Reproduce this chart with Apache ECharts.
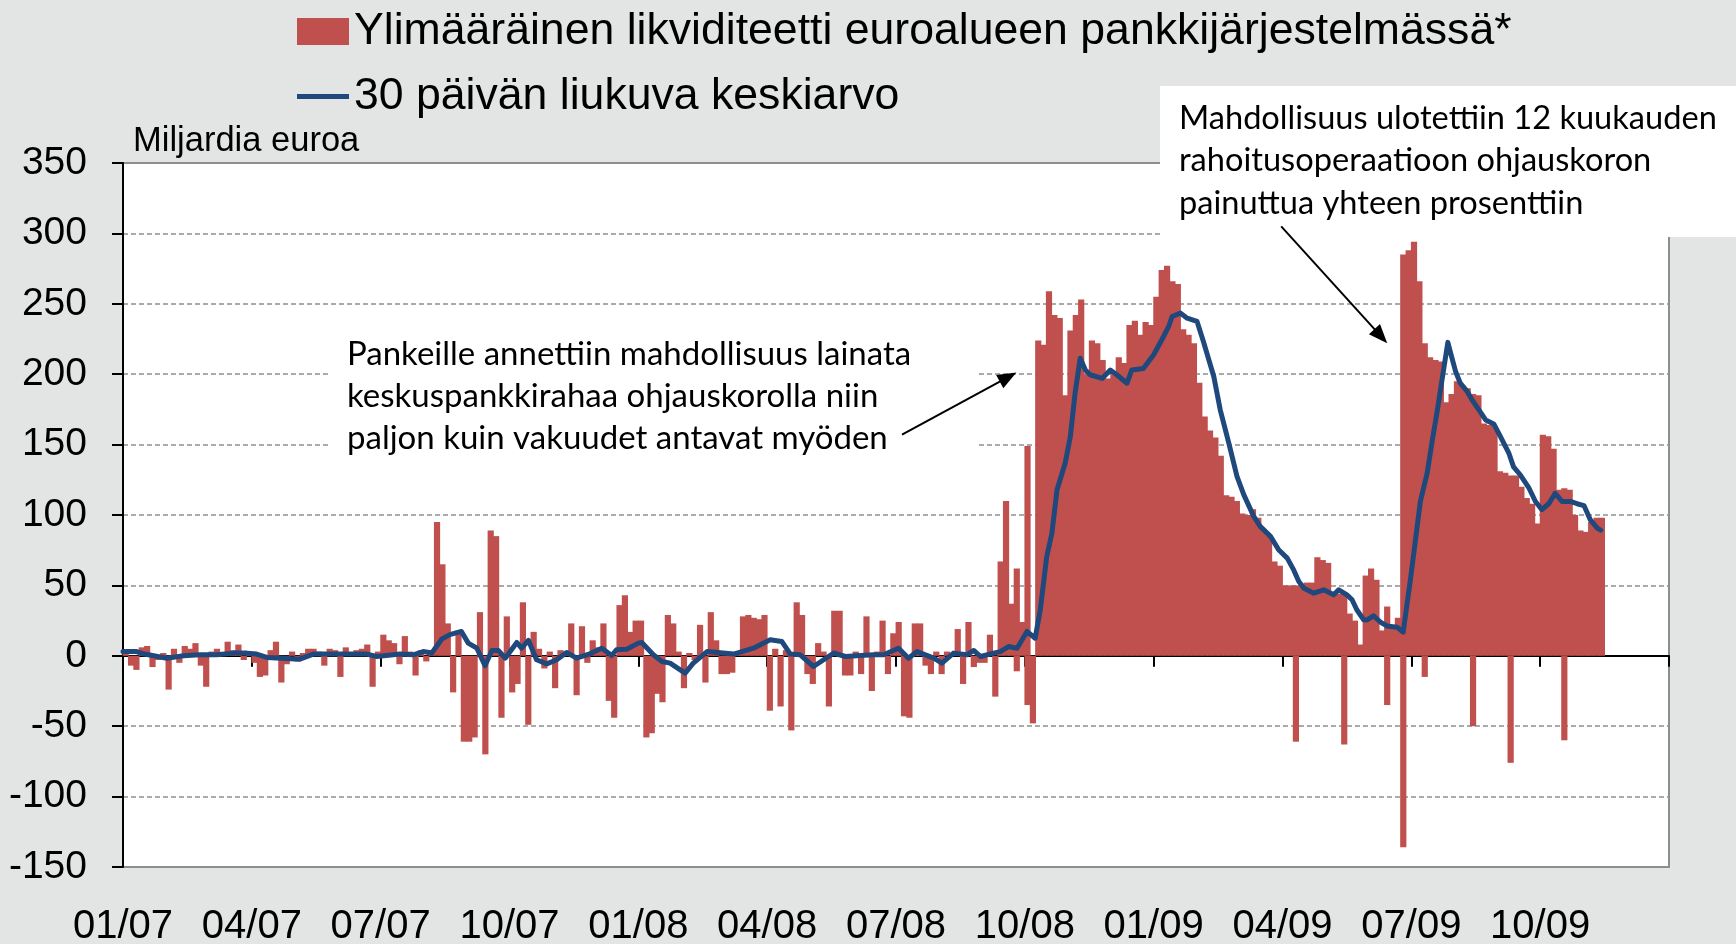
<!DOCTYPE html>
<html>
<head>
<meta charset="utf-8">
<script src="https://cdn.jsdelivr.net/npm/echarts@6/dist/echarts.min.js"></script>
<style>
  html, body { margin: 0; padding: 0; background: #e3e5e4; }
  #main { width: 1736px; height: 944px; }
</style>
</head>
<body>
<div id="main"></div>
<script>
var barName = "Ylimääräinen likviditeetti euroalueen pankkijärjestelmässä*";
var lineName = "30 päivän liukuva keskiarvo";

// 8 bars per month, month 0 = 01/2007
var perMonth = 8;

var bars2007 = [
  3, -7, -10, 6, 7, -8, -3, 2,
  -24, 5, -5, 7, 5, 9, -7, -22,
  3, 5, 2, 10, 4, 8, -3, 2,
  -5, -15, -14, 4, 10, -19, -6, 3,
  -4, 2, 5, 5, 3, -7, 5, 4,
  -15, 6, 2, 4, 5, 8, -22, 3,
  15, 11, 9, -6, 14, 3, -14, 4,
  -4, 4, 95, 65, 23, -26, 18, -61,
  -61, -58, 31, -70, 89, 85, -44, 28,
  -26, -20, 38, -49, 17, 5, -9, 3,
  -23, 4, 3, 23, -28, 21, -5, 11,
  6, 23, -32, -44, 36, 43, 17, 25,
];
var bars2008 = [
  25, -58, -55, -27, -33, 29, 23, 3,
  -23, 2, -3, 22, -19, 31, 11, -13,
  -13, -12, 3, 28, 29, 27, 26, 29,
  -39, 5, -36, 4, -53, 38, 29, -13,
  -20, 9, 3, -36, 32, 32, -14, -14,
  3, -13, 28, -25, 3, 25, -13, 16,
  24, -43, -44, 23, 23, -7, -13, 3,
  -13, 3, 2, 19, -20, 24, -8, -5,
  -5, 15, -29, 67, 110, 37, 62, 24,
  149, -48, 224, 221, 259, 242, 240, 185,
  231, 242, 253, 200, 224, 222, 210, 197,
  200, 212, 208, 235, 238, 228, 237, 235,
];
var bars2009 = [
  255, 274, 277, 266, 264, 232, 228, 222,
  194, 170, 160, 155, 142, 114, 113, 110,
  101, 100, 104, 98, 90, 85, 67, 64,
  50, 50, 50, 50, 52, 52, 70, 68,
  66, 45, 44, 44, 30, 25, 8, 57,
  62, 54, 18, 35, 20, 27, 285, 288,
  294, 266, 222, 212, 210, 209, 180, 186,
  195, 192, 190, 186, 185, 165, 164, 163,
  131, 130, 128, 128, 120, 112, 108, 94,
  157, 156, 147, 118, 119, 118, 100, 89,
  88, 95, 98, 98,
];
// negative days inside positive bar slots: [slot, value]
var dips = [
  [166, -11], [168, -35], [218, -61], [227, -63], [235, -35],
  [238, -136], [242, -15], [251, -50], [258, -76], [268, -60],
];

// moving average: [month, value]
var avgPoints = [
  [0, 3], [0.32, 3], [0.47, 1.4], [1.02, -1.7], [1.41, 0], [1.79, 0.7], [2.18, 0.7],
  [2.57, 1.9], [2.88, 1.9], [3.11, 1.2], [3.35, -1.2], [4.12, -2.4], [4.43, 1.2],
  [4.9, 1.2], [5.68, 1.2], [5.91, -0.5], [6.45, 1.2], [6.76, 0.7], [6.99, 3],
  [7.19, 2], [7.42, 11.8], [7.61, 15], [7.88, 17.3], [8.04, 9], [8.24, 5.4],
  [8.43, -7], [8.59, 3.8], [8.74, 3.8], [8.9, -1.7], [9.17, 9.5], [9.28, 5.4],
  [9.44, 11], [9.63, -2.8], [9.87, -5.7], [10.1, -2.8], [10.33, 2.4], [10.56, -1.7],
  [10.87, 1.4], [11.15, 5.4], [11.38, 0.2], [11.49, 4.3], [11.73, 4.7], [12.0, 9],
  [12.08, 9.5], [12.35, 0.7], [12.55, -4], [12.74, -5.2], [13.09, -12.3], [13.28, -5.2],
  [13.6, 3], [14.22, 1.2], [14.68, 5.4], [15.07, 11.4], [15.34, 10.2], [15.54, 1.2],
  [15.77, 0.7], [16.08, -7.6], [16.55, 2], [16.82, -0.5], [17.17, 0.2], [17.48, 0.7],
  [17.71, 0.7], [18.06, 5.4], [18.29, -1.7], [18.49, 3], [18.88, -1.7], [19.07, -5.2],
  [19.34, 1.9], [19.65, 0.7], [19.81, 3.8], [19.97, -0.5], [20.27, 1.9], [20.43, 3],
  [20.62, 6.6], [20.82, 5.4], [21.05, 17.3], [21.24, 12.5], [21.36, 32.7], [21.51, 70.5],
  [21.63, 87], [21.75, 118], [21.94, 137], [22.06, 155.8], [22.17, 186.6], [22.29, 211.4],
  [22.41, 203], [22.52, 199.6], [22.8, 197], [22.99, 203], [23.14, 199.6], [23.38, 193.6],
  [23.49, 203], [23.76, 204], [24.0, 213.8], [24.23, 226.8], [24.35, 233.9], [24.43, 241],
  [24.62, 243.4], [24.78, 239.8], [25.01, 237.5], [25.16, 223], [25.4, 198.4], [25.55, 174.7],
  [25.75, 151], [25.94, 127.4], [26.1, 114.3], [26.33, 99], [26.48, 91.9], [26.72, 84.8],
  [26.91, 75.3], [27.11, 69.4], [27.26, 61], [27.38, 52.8], [27.5, 48], [27.73, 44.5],
  [27.96, 46.9], [28.19, 43.3], [28.31, 46.9], [28.5, 43.3], [28.62, 39.8], [28.73, 32.7],
  [28.89, 25.6], [28.97, 25.5], [29.12, 28.4], [29.28, 24], [29.43, 21.2], [29.67, 20.3],
  [29.81, 16.8], [29.98, 54.5], [30.21, 109.6], [30.37, 129.9], [30.48, 151.6], [30.6, 173.3],
  [30.71, 195], [30.85, 222.6], [30.95, 211], [31.03, 202], [31.14, 193.6], [31.3, 187.8],
  [31.41, 182], [31.57, 174.8], [31.73, 167.5], [31.92, 164.6], [32.07, 156], [32.27, 144],
  [32.38, 134.2], [32.54, 128.4], [32.73, 119.7], [32.89, 109.6], [33.04, 103.8], [33.2, 108],
  [33.35, 115.4], [33.51, 109.6], [33.7, 109.6], [33.86, 108], [34.02, 106.7], [34.17, 96.5],
  [34.33, 90.7], [34.41, 89.3],
];

var yTicks = { min: -150, max: 350, step: 50 };
var xTicks = { min: 0, max: 36, step: 3 };

var note1 = "Pankeille annettiin mahdollisuus lainata\nkeskuspankkirahaa ohjauskorolla niin\npaljon kuin vakuudet antavat myöden";
var note2 = "Mahdollisuus ulotettiin 12 kuukauden\nrahoitusoperaatioon ohjauskoron\npainuttua yhteen prosenttiin";

var font = "'Liberation Sans', Arial, sans-serif";
var noteFont = "Lato, 'Open Sans', sans-serif";

var bars = bars2007.concat(bars2008, bars2009);
var barData = bars.map(function (v, k) {
  return [(k + 0.5) / perMonth, v];
});
var dipData = dips.map(function (d) {
  return [(d[0] + 0.5) / perMonth, d[1]];
});

function quarterLabel(v) {
  var month = (v % 12) + 1;
  var year = 7 + Math.floor(v / 12);
  return (month < 10 ? "0" : "") + month + "/" + (year < 10 ? "0" : "") + year;
}

var chart = echarts.init(document.getElementById("main"));

var option = {
  animation: false,
  backgroundColor: "#e3e5e4",
  legend: [
    {
      data: [{ name: barName, icon: "rect" }],
      left: 297,
      top: 9,
      padding: 0,
      itemWidth: 52,
      itemHeight: 27,
      selectedMode: false,
      textStyle: { fontSize: 44.6, color: "#000", fontFamily: font },
    },
    {
      data: [{ name: lineName, icon: "rect" }],
      left: 297,
      top: 74,
      padding: 0,
      itemWidth: 52,
      itemHeight: 5,
      selectedMode: false,
      textStyle: { fontSize: 44.6, color: "#000", fontFamily: font },
    },
  ],
  grid: {
    left: 123,
    right: 67,
    top: 163,
    bottom: 77,
    outerBoundsMode: "none",
    show: true,
    backgroundColor: "#ffffff",
    borderColor: "#8e8e8e",
    borderWidth: 2,
  },
  xAxis: [
    {
      // labels at the bottom
      type: "value",
      min: xTicks.min,
      max: xTicks.max,
      interval: xTicks.step,
      position: "bottom",
      axisLine: { show: false, onZero: false },
      axisTick: { show: false },
      splitLine: { show: false },
      axisLabel: {
        fontSize: 40,
        color: "#000",
        fontFamily: font,
        margin: 40,
        showMaxLabel: false,
        formatter: quarterLabel,
      },
    },
    {
      // zero line with ticks
      type: "value",
      min: xTicks.min,
      max: xTicks.max,
      interval: xTicks.step,
      position: "bottom",
      axisLine: { show: true, onZero: true, lineStyle: { color: "#000", width: 2 } },
      axisTick: { show: true, length: 11, lineStyle: { color: "#000", width: 2 } },
      axisLabel: { show: false },
      splitLine: { show: false },
    },
  ],
  yAxis: {
    type: "value",
    min: yTicks.min,
    max: yTicks.max,
    interval: yTicks.step,
    name: "Miljardia euroa",
    nameLocation: "end",
    nameGap: 4,
    nameTextStyle: {
      fontSize: 34.5,
      color: "#000",
      fontFamily: font,
      align: "left",
      padding: [0, 0, 0, 10],
    },
    axisLine: { show: true, lineStyle: { color: "#000", width: 2 } },
    axisTick: { show: true, length: 11, lineStyle: { color: "#000", width: 2 } },
    axisLabel: { fontSize: 39, color: "#000", fontFamily: font, margin: 36 },
    splitLine: { lineStyle: { color: "#8e8e8e", width: 1.5, type: [5, 3] } },
  },
  series: [
    {
      name: barName,
      type: "bar",
      data: barData,
      barWidth: 6.2,
      barGap: "-100%",
      itemStyle: { color: "#c0504d" },
      emphasis: { disabled: true },
      z: 2,
    },
    {
      name: "dips",
      type: "bar",
      data: dipData,
      barWidth: 6.2,
      barGap: "-100%",
      itemStyle: { color: "#c0504d" },
      emphasis: { disabled: true },
      z: 2,
    },
    {
      name: lineName,
      type: "line",
      data: avgPoints,
      color: "#1f497d",
      showSymbol: false,
      lineStyle: { color: "#1f497d", width: 5, join: "round", cap: "round" },
      emphasis: { disabled: true },
      z: 3,
      markLine: {
        silent: true,
        symbol: ["none", "triangle"],
        symbolSize: [15, 19],
        label: { show: false },
        lineStyle: { color: "#000", width: 2, type: "solid" },
        data: [
          [{ coord: [18.14, 157] }, { coord: [20.61, 198] }],
          [{ coord: [26.97, 305] }, { coord: [29.29, 227] }],
        ],
      },
    },
  ],
  graphic: [
    {
      type: "rect",
      z: 1,
      shape: { x: 330, y: 318, width: 647, height: 146 },
      style: { fill: "#ffffff" },
    },
    {
      type: "text",
      z: 1,
      x: 347,
      y: 333,
      style: { text: note1, font: "33px " + noteFont, lineHeight: 42, fill: "#000" },
    },
    {
      type: "rect",
      z: 1,
      shape: { x: 1160, y: 86, width: 576, height: 151 },
      style: { fill: "#ffffff" },
    },
    {
      type: "text",
      z: 1,
      x: 1179,
      y: 97,
      style: { text: note2, font: "32.6px " + noteFont, lineHeight: 42.5, fill: "#000" },
    },
  ],
};

chart.setOption(option);
</script>
</body>
</html>
